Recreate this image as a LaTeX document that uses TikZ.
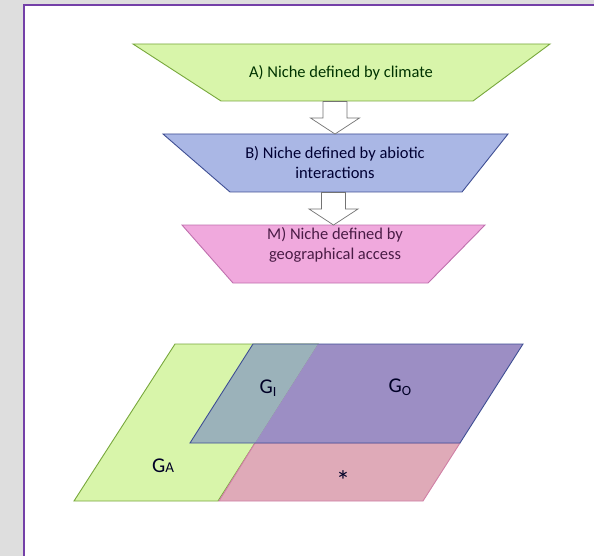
\documentclass[tikz,border=0pt]{standalone}
\usepackage{fontspec}
\setmainfont{Carlito}
\usetikzlibrary{positioning}
\definecolor{pagegray}{HTML}{DEDEDE}
\definecolor{framepurple}{HTML}{7440A8}
\definecolor{climfill}{HTML}{D8F5AA}
\definecolor{climline}{HTML}{78A83C}
\definecolor{abiofill}{HTML}{AAB7E5}
\definecolor{abioline}{HTML}{3F4F94}
\definecolor{geofill}{HTML}{F0A9DD}
\definecolor{geoline}{HTML}{C070AE}
\definecolor{geotext}{HTML}{4A1C46}
\definecolor{gifill}{HTML}{9BB2BA}
\definecolor{gofill}{HTML}{9C8EC4}
\definecolor{starfill}{HTML}{DFAAB8}
\definecolor{starline}{HTML}{D07FA5}
\newcommand{\blockdown}[3]{% x, top, tip
  \draw[blockarrow] (#1-12,#2) -- (#1+12,#2) -- (#1+12,#3-16) -- (#1+24.5,#3-16)
    -- (#1,#3) -- (#1-24.5,#3-16) -- (#1-12,#3-16) -- cycle;}
\newcommand{\Gsub}[1]{G\raisebox{-3pt}{\fontsize{14}{14}\selectfont #1}}

\begin{document}
\begin{tikzpicture}[
  x=1pt,y=-1pt,
  every node/.style={inner sep=0pt,align=center},
  nichetext/.style={font=\fontsize{16.5}{20}\selectfont},
  regiontext/.style={font=\fontsize{21}{22}\selectfont,text=black!85!blue},
  blockarrow/.style={draw=black!55,fill=white,line width=0.7pt},
  thinline/.style={line width=0.9pt}
  ]
  \useasboundingbox (0,0) rectangle (594,556);
  \fill[pagegray] (0,0) rectangle (594,556);
  \fill[white] (24,5.5) rectangle (594,556);
  \draw[framepurple,line width=2pt] (24,556) -- (24,5.5) -- (594,5.5);

  % the three filters
  \filldraw[fill=climfill,draw=climline,thinline]
    (133,44) -- (550,44) -- (473,101) -- (221,101) -- cycle;
  \filldraw[fill=abiofill,draw=abioline,thinline]
    (163,134) -- (508,134) -- (462,192) -- (230,192) -- cycle;
  \filldraw[fill=geofill,draw=geoline,thinline]
    (182,225) -- (485,225) -- (428,283) -- (233,283) -- cycle;
  \node[nichetext,text=black!80!green] (climate) at (341,73) {A) Niche defined by climate};
  \node[nichetext,text=black!80!blue] (abiotic) at (335,163) {B) Niche defined by abiotic\\interactions};
  \node[nichetext,text=geotext] (access) at (335,245) {M) Niche defined by\\geographical access};
  \blockdown{335}{101.5}{134}
  \blockdown{333.5}{192.5}{225}

  % geographic space
  \filldraw[fill=climfill,draw=climline,thinline]
    (175,344) -- (318,344) -- (218,501) -- (74,501) -- cycle;
  \filldraw[fill=starfill,draw=starline,thinline]
    (255,443) -- (460,443) -- (423,501) -- (219,501) -- cycle;
  \fill[gifill] (253,344) -- (318,344) -- (255,443) -- (190,443) -- cycle;
  \fill[gofill] (318,344) -- (523,344) -- (460,443) -- (255,443) -- cycle;
  \draw[abioline,thinline] (253,344) -- (523,344) -- (460,443) -- (190,443) -- cycle;
  \node[regiontext] (gi) at (268,388) {\Gsub{I}};
  \node[regiontext] (go) at (400,387) {\Gsub{O}};
  \node[regiontext] (ga) at (163,466) {G{\fontsize{15}{15}\selectfont A}};
  \node[regiontext,font=\fontsize{28}{28}\selectfont] (star) at (343,481) {*};
\end{tikzpicture}
\end{document}
